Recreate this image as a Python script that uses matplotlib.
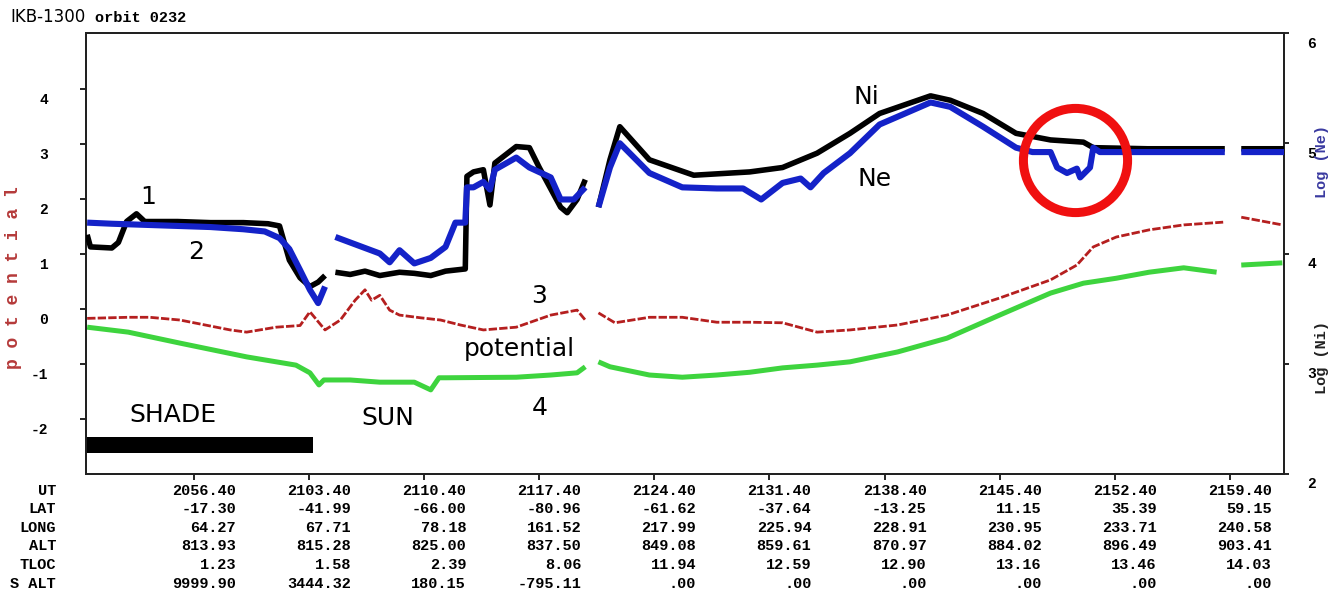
import numpy as np
import matplotlib.pyplot as plt
from matplotlib.transforms import ScaledTranslation, blended_transform_factory

plt.rcParams["axes.unicode_minus"] = False
nan = np.nan

# time axis: minutes after 20:56:40 UT
ut_labels = ["2056.40", "2103.40", "2110.40", "2117.40", "2124.40",
             "2131.40", "2138.40", "2145.40", "2152.40", "2159.40"]
lat = ["-17.30", "-41.99", "-66.00", "-80.96", "-61.62",
       "-37.64", "-13.25", "11.15", "35.39", "59.15"]
lon = ["64.27", "67.71", "78.18", "161.52", "217.99",
       "225.94", "228.91", "230.95", "233.71", "240.58"]
alt = ["813.93", "815.28", "825.00", "837.50", "849.08",
       "859.61", "870.97", "884.02", "896.49", "903.41"]
tloc = ["1.23", "1.58", "2.39", "8.06", "11.94",
        "12.59", "12.90", "13.16", "13.46", "14.03"]
s_alt = ["9999.90", "3444.32", "180.15", "-795.11", ".00",
         ".00", ".00", ".00", ".00", ".00"]
tick_step_min = 7

# log Ni (black)
ni_t = [-6.5, -6.3, -5.0, -4.6, -4.1, -3.5, -3.0, -1.0, 1.0, 3.0, 4.5, 5.2, 5.8, 6.45, 7.05, 7.55, 7.97, nan,
        8.6, 9.5, 10.4, 11.3, 12.5, 13.4, 14.4, 15.3, 16.5, 16.6, 17.0, 17.6, 18.0, 18.3, 19.6, 20.4, 21.0,
        22.3, 22.7, 23.3, 23.8, nan,
        24.6, 25.3, 25.9, 27.7, 30.4, 33.8, 35.8, 37.9, 39.9, 41.7, 44.8, 46.0, 48.0, 50.0, 52.1, 54.1,
        54.7, 58.0, 62.7, nan,
        63.7, 66.3]
ni_log = [4.17, 4.06, 4.05, 4.10, 4.29, 4.36, 4.29, 4.29, 4.28, 4.28, 4.27, 4.25, 3.94, 3.78, 3.70, 3.74, 3.80, nan,
          3.83, 3.81, 3.84, 3.80, 3.83, 3.82, 3.80, 3.84, 3.86, 4.70, 4.74, 4.76, 4.44, 4.82, 4.97, 4.96, 4.78,
          4.42, 4.37, 4.49, 4.67, nan,
          4.42, 4.85, 5.15, 4.85, 4.71, 4.74, 4.78, 4.91, 5.09, 5.27, 5.43, 5.39, 5.27, 5.09, 5.03, 5.01,
          4.96, 4.95, 4.95, nan,
          4.95, 4.95]

# log Ne (blue)
ne_t = [-6.5, -5.0, -3.0, -1.0, 1.0, 3.0, 4.3, 5.2, 5.8, 6.45, 7.05, 7.55, 7.97, nan,
        8.6, 9.5, 10.4, 11.3, 11.9, 12.5, 13.4, 14.4, 15.3, 15.9, 16.5, 16.6, 17.0, 17.6, 18.0, 18.3,
        19.6, 20.4, 21.7, 22.3, 23.1, 23.8, nan,
        24.6, 25.3, 25.9, 27.7, 29.7, 31.8, 33.4, 34.5, 35.8, 36.9, 37.5, 38.3, 39.9, 41.7, 44.8, 46.0,
        48.0, 50.0, 51.0, 52.1, 52.5, 53.1, 53.7, 53.9, 54.5, 54.7, 55.1, 58.0, 62.7, nan,
        63.7, 66.3]
ne_log = [4.28, 4.27, 4.26, 4.25, 4.24, 4.22, 4.20, 4.14, 4.04, 3.85, 3.67, 3.55, 3.70, nan,
          4.15, 4.10, 4.05, 4.00, 3.92, 4.03, 3.91, 3.96, 4.06, 4.28, 4.28, 4.60, 4.60, 4.65, 4.58, 4.76,
          4.87, 4.78, 4.69, 4.49, 4.49, 4.60, nan,
          4.42, 4.78, 5.00, 4.73, 4.60, 4.59, 4.59, 4.49, 4.64, 4.68, 4.60, 4.73, 4.91, 5.17, 5.37, 5.33,
          5.15, 4.96, 4.92, 4.92, 4.78, 4.73, 4.77, 4.69, 4.78, 4.96, 4.92, 4.92, 4.92, nan,
          4.92, 4.92]

# potential, trace 3 (red)
pot_t = [-6.5, -4.0, -2.7, -0.85, 2.2, 3.2, 5.0, 6.45, 7.05, 7.97, 8.9, 9.8, 10.4, 10.8, 11.3, 11.9, 12.5,
         13.8, 15.0, 16.2, 17.6, 19.6, 21.7, 23.3, 23.8, nan,
         24.6, 25.6, 27.7, 29.7, 31.8, 33.8, 35.8, 37.9, 39.9, 42.8, 45.8, 49.0, 52.1, 53.7, 54.7, 56.1,
         58.1, 60.2, 62.6, nan,
         63.7, 66.2]
pot = [-0.17, -0.15, -0.15, -0.20, -0.38, -0.42, -0.33, -0.30, -0.05, -0.38, -0.20, 0.16, 0.35, 0.16, 0.25,
       -0.02, -0.11, -0.16, -0.20, -0.29, -0.38, -0.33, -0.11, -0.02, -0.20, nan,
       -0.07, -0.25, -0.15, -0.15, -0.24, -0.24, -0.25, -0.42, -0.38, -0.29, -0.11, 0.20, 0.53, 0.80, 1.13,
       1.31, 1.44, 1.53, 1.58, nan,
       1.67, 1.53]

# trace 4 (green)
green_t = [-6.5, -4.0, -0.85, 3.2, 6.2, 7.05, 7.6, 7.9, 9.5, 11.3, 13.4, 14.4, 14.9, 15.3, 19.6, 21.7, 23.3,
           23.8, nan,
           24.6, 25.3, 27.7, 29.7, 31.8, 33.8, 35.8, 37.9, 39.9, 42.8, 45.8, 49.0, 52.1, 54.1, 56.1, 58.1,
           60.2, 62.2, nan,
           63.7, 66.2]
green = [-0.33, -0.42, -0.62, -0.87, -1.02, -1.16, -1.38, -1.29, -1.29, -1.33, -1.33, -1.47, -1.25, -1.25,
         -1.24, -1.20, -1.16, -1.05, nan,
         -0.96, -1.05, -1.20, -1.24, -1.20, -1.15, -1.07, -1.02, -0.96, -0.78, -0.53, -0.11, 0.29, 0.47,
         0.56, 0.67, 0.75, 0.67, nan,
         0.80, 0.84]

shade_t = (-6.57, 7.24)
shade_band = (-2.62, -2.33)
feature_t, feature_ne = 53.6, 4.85

W, H = 1343, 604
fig = plt.figure(figsize=(W / 100, H / 100), dpi=100)
ax = fig.add_axes([86 / W, 1 - 474 / H, (1284 - 86) / W, (474 - 33) / H])
ax2 = ax.twinx()

mono = "Liberation Mono"

ax.set_xlim(-6.57, 66.3)
ax.set_ylim(-3, 5.02)
ax2.set_ylim(2, 6)

ticks = np.arange(len(ut_labels)) * tick_step_min
ax.set_xticks(ticks)
ax.set_xticklabels([])
ax.tick_params(axis="x", direction="out", length=4.5, width=1.2)
ax.set_yticks(range(-2, 5))
ax.tick_params(axis="y", direction="out", length=4.5, width=1.2, pad=23,
               labelsize=10.5, labelfontfamily=mono)
ax2.set_yticks(range(2, 7))
ax2.tick_params(axis="y", direction="out", length=3.5, width=1.2, pad=13.5,
                labelsize=10.5, labelfontfamily=mono)
for a in (ax, ax2):
    for s in a.spines.values():
        s.set_linewidth(1.4)
        s.set_color("#222222")
    for lbl in a.get_yticklabels():
        lbl.set_fontweight("bold")
        lbl.set_transform(lbl.get_transform() + ScaledTranslation(0, -0.09, fig.dpi_scale_trans))

# curves
ax2.plot(ni_t, ni_log, color="black", lw=4.0, solid_capstyle="butt", zorder=3)
ax2.plot(ne_t, ne_log, color="#1422c8", lw=4.4, solid_capstyle="butt", zorder=4)
ax.plot(pot_t, pot, color="#b51f1f", lw=2.0, ls=(0, (3, 0.8)), zorder=3)
ax.plot(green_t, green, color="#3ed43e", lw=3.6, solid_capstyle="butt", zorder=3)

# shadow interval
ax.fill_between(shade_t, shade_band[0], shade_band[1], color="black", lw=0)

# marked Ne depletion
ax2.plot([feature_t], [feature_ne], "o", ms=75, mfc="none", mec="#f01010", mew=6.5, zorder=5)

ann = dict(fontsize=18, family="DejaVu Sans", ha="center", va="center")
ax2.text(40.9, 5.42, "Ni", **ann)
ax2.text(41.4, 4.68, "Ne", **ann)
ax.text(-2.8, 2.04, "1", **ann)
ax.text(0.12, 1.04, "2", **ann)
ax.text(21.0, 0.24, "3", **ann)
ax.text(19.8, -0.73, "potential", **ann)
ax.text(21.0, -1.80, "4", **ann)
ax.text(-1.3, -1.93, "SHADE", **ann)
ax.text(11.8, -1.98, "SUN", **ann)

# axis titles
fig.text(14 / W, 1 - 278 / H, "p o t e n t i a l", rotation=90, color="#b53a3a",
         family=mono, fontweight="bold", fontsize=13, ha="center", va="center")
fig.text(1322 / W, 1 - 162 / H, "Log (Ne)", rotation=90, color="#3a3aa0",
         family=mono, fontweight="bold", fontsize=11, ha="center", va="center")
fig.text(1322 / W, 1 - 357 / H, "Log (Ni)", rotation=90, color="#222222",
         family=mono, fontweight="bold", fontsize=11, ha="center", va="center")

# header
fig.text(10 / W, 1 - 17 / H, "IKB-1300", family="DejaVu Sans", fontsize=12, va="center")
fig.text(95 / W, 1 - 18 / H, "orbit 0232", family=mono, fontweight="bold", fontsize=11, va="center")

# orbit table under the time axis
rows = [("UT", ut_labels), ("LAT", lat), ("LONG", lon), ("ALT", alt), ("TLOC", tloc), ("S ALT", s_alt)]
row_y = [491, 509, 528, 546, 565, 584]
trans = blended_transform_factory(ax.transData, fig.transFigure) + \
    ScaledTranslation(0.42, 0, fig.dpi_scale_trans)
for (name, vals), py in zip(rows, row_y):
    fig.text(56 / W, 1 - py / H, name, family=mono, fontweight="bold", fontsize=11,
             ha="right", va="center")
    for tk, v in zip(ticks, vals):
        fig.text(tk, 1 - py / H, v, transform=trans, family=mono, fontweight="bold",
                 fontsize=11, ha="right", va="center")

fig.savefig("out.png", dpi=100)
